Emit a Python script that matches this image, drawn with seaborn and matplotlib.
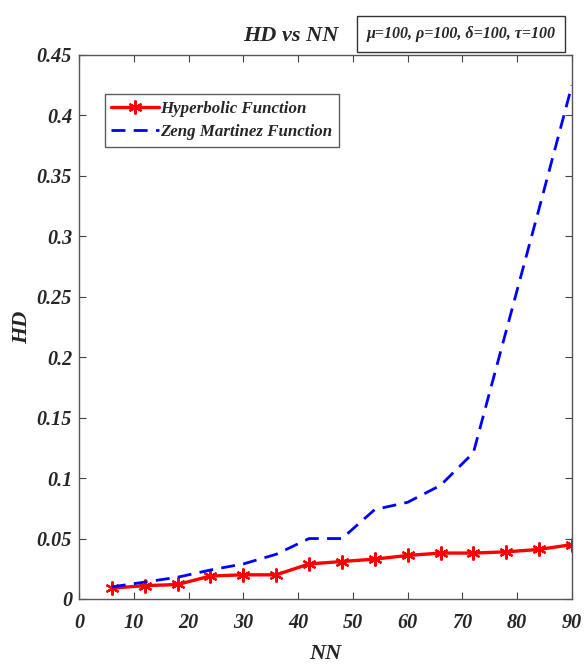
import pandas as pd
import matplotlib.pyplot as plt
import seaborn as sns

# Values
nn = [6, 12, 18, 24, 30, 36, 42, 48, 54, 60, 66, 72, 78, 84, 90]
hyperbolic = [0.009, 0.011, 0.012, 0.019, 0.020, 0.020, 0.029, 0.031,
              0.033, 0.036, 0.038, 0.038, 0.039, 0.041, 0.045]
zeng = [0.010, 0.014, 0.018, 0.024, 0.029, 0.037, 0.050, 0.050,
        0.074, 0.080, 0.094, 0.121, 0.222, 0.323, 0.425]
x_ticks = [0, 10, 20, 30, 40, 50, 60, 70, 80, 90]
y_ticks = [0, 0.05, 0.1, 0.15, 0.2, 0.25, 0.3, 0.35, 0.4, 0.45]
y_labels = ['0', '0.05', '0.1', '0.15', '0.2', '0.25', '0.3', '0.35', '0.4', '0.45']

df = pd.DataFrame({'NN': nn, 'Hyperbolic': hyperbolic, 'Zeng': zeng})

sns.set_theme(style="white")
plt.rcParams['font.family'] = ['Liberation Serif', 'DejaVu Serif']
plt.rcParams['font.style'] = 'italic'
plt.rcParams['font.weight'] = 'bold'

fig = plt.figure(figsize=(5.87, 6.68), dpi=100)
ax = fig.add_axes([0.1346, 0.1033, 0.8398, 0.8144])

# asterisk marker like the MATLAB '*'
sns.lineplot(data=df, x='NN', y='Hyperbolic', color='red', marker=(6, 2, 0),
             markersize=10, markeredgecolor='red', markeredgewidth=1.6,
             linewidth=2.4, label='Hyperbolic Function', ax=ax)
sns.lineplot(data=df, x='NN', y='Zeng', color='blue', linestyle=(0, (5, 3)),
             linewidth=2.0, label='Zeng Martinez Function', ax=ax)

ax.set_xlim(0, 90)
ax.set_ylim(0, 0.45)
ax.set_xticks(x_ticks)
ax.set_yticks(y_ticks)
ax.set_yticklabels(y_labels)
ax.tick_params(direction='in', length=5, width=0.8, color='#444444',
               top=True, right=True, bottom=True, left=True, labelsize=14.5)
ax.tick_params(axis='x', pad=10)
ax.tick_params(axis='y', pad=5)
for sp in ax.spines.values():
    sp.set_color('#555555')
    sp.set_linewidth(1.0)

ax.set_xlabel('NN', fontsize=16, fontweight='bold', fontstyle='italic', labelpad=8)
ax.set_ylabel('HD', fontsize=16, fontweight='bold', fontstyle='italic')
ax.yaxis.set_label_coords(-0.095, 0.5)
ax.set_title('HD vs NN', fontsize=16, fontweight='bold', fontstyle='italic',
             x=0.43, pad=10)

leg = ax.legend(loc='upper left', bbox_to_anchor=(0.045, 0.935), fontsize=12.2,
                frameon=True, fancybox=False, handlelength=2.8, handletextpad=0.1,
                borderpad=0.4, labelspacing=0.45, borderaxespad=0.2)
leg.get_frame().set_edgecolor('#333333')
leg.get_frame().set_linewidth(1.0)

fig.text(0.785, 0.949, 'μ=100, ρ=100, δ=100, τ=100', fontsize=11.5,
         fontweight='bold', fontstyle='italic', ha='center', va='center',
         bbox=dict(boxstyle='square,pad=0.6', facecolor='white',
                   edgecolor='#333333', linewidth=1.0))

plt.savefig('out.png', dpi=100)
